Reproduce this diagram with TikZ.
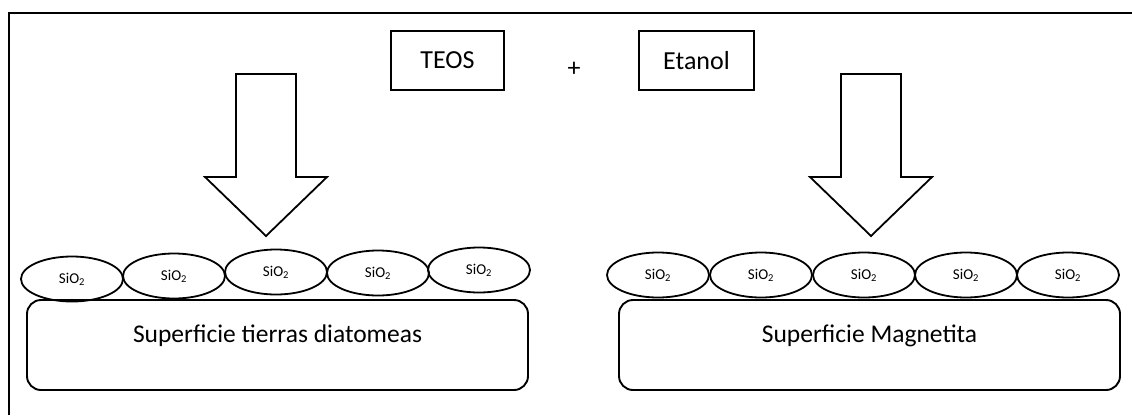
\documentclass[tikz,border=0pt]{standalone}
\usepackage{fontspec}
\setmainfont{Carlito}
\usetikzlibrary{shapes.geometric}
\begin{document}
\begin{tikzpicture}[
    x=1pt,y=-1pt,
    box/.style={draw,line width=1.8pt,inner sep=0pt,minimum height=59pt,
        font=\fontsize{26}{30}\selectfont},
    grain/.style={draw,ellipse,line width=1.8pt,inner sep=0pt,
        minimum width=102pt,minimum height=45pt,font=\fontsize{15}{18}\selectfont},
    surface/.style={draw,rounded corners=14pt,line width=1.9pt,inner sep=0pt,
        minimum width=501pt,text height=42pt,text depth=48pt,
        font=\fontsize{25.5}{30}\selectfont},
    funnel/.style={draw,line width=1.8pt,line join=miter}]
    \useasboundingbox (0,0) rectangle (1132,415);
    \def\sio{SiO\textsubscript{2}}

    \draw[line width=2.8pt] (9,415) |- (1132,13);

    \node[box,minimum width=113pt] (teos) at (447.5,60.5) {TEOS\hspace{10pt}};
    \node[box,minimum width=115pt] (etanol) at (696.5,60.5) {Etanol};
    \node[font=\fontsize{26}{30}\selectfont] (plus) at (574,69) {+};

    % downward arrows
    \foreach \ax in {266,871} {
        \draw[funnel] ({\ax-30},74) -- ({\ax+30},74) -- ({\ax+30},177)
            -- ({\ax+61},177) -- (\ax,236) -- ({\ax-61},177)
            -- ({\ax-30},177) -- cycle;
    }

    % SiO2 layers
    \foreach \gx/\gy [count=\i] in {72/279,174/276,276/272,378/273,479/270} {
        \node[grain] (dl\i) at (\gx,\gy) {\sio};
    }
    \foreach \gx [count=\i] in {658,761,864,966,1068} {
        \node[grain] (mg\i) at (\gx,275) {\sio};
    }

    \node[surface,anchor=base] (diat) at (277.5,342) {Superficie tierras diatomeas};
    \node[surface,anchor=base] (magn) at (869.5,342) {Superficie Magnetita};
\end{tikzpicture}
\end{document}
